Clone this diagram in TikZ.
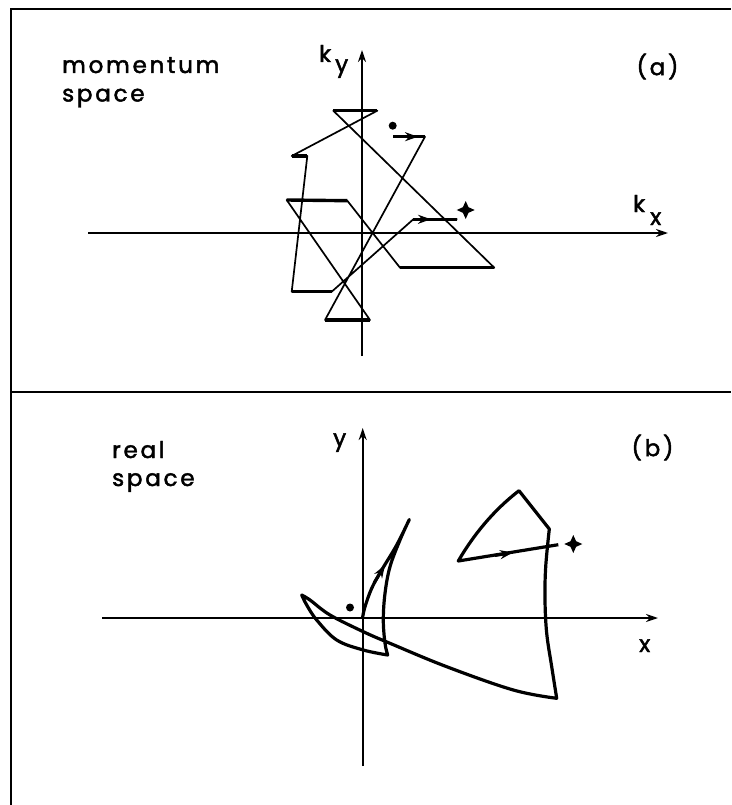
\documentclass[tikz,border=0pt]{standalone}
\usepackage{fontspec}
\setmainfont{Poppins}[LetterSpace=12,FakeBold=2]
\usetikzlibrary{arrows.meta}
\tikzset{
  frame/.style={line width=2.5pt},
  axis/.style={line width=2.1pt,-{Stealth[length=12pt,width=8pt]}},
  thin traj/.style={line width=1.7pt,line join=round},
  hseg/.style={line width=3.4pt},
  curve/.style={line width=3.2pt,line join=round},
  midarrow/.style={-{Stealth[length=13pt,width=9pt]},line width=3pt},
  lbl/.style={inner sep=0pt,font=\fontsize{23}{28}\selectfont},
  dot/.style={circle,fill=black,inner sep=0pt,minimum size=8pt},
}
\newcommand{\starmark}[1]{\fill[black] (#1) ++(0,-9) -- ++(2.8,6.2) -- ++(6.2,2.8) -- ++(-6.2,2.8) -- ++(-2.8,6.2) -- ++(-2.8,-6.2) -- ++(-6.2,-2.8) -- ++(6.2,-2.8) -- cycle;}
\begin{document}
\begin{tikzpicture}[x=1pt,y=-1pt]
\useasboundingbox (0,0) rectangle (731,805);
% frame
\draw[frame] (11,805) -- (11,9) -- (731,9);
\draw[frame] (11,392) -- (731,392);

% ---------- panel (a)
\coordinate (kxl) at (88,233);
\coordinate (kxr) at (668,233);
\coordinate (kyb) at (362,356);
\coordinate (kyt) at (362,50);
\draw[axis] (kxl) -- (kxr);
\draw[axis] (kyb) -- (kyt);
\node[lbl,anchor=base west] (mom) at (62,73) {momentum};
\node[lbl,anchor=base west] (msp) at (62,101.5) {space};
\node[lbl] (la) at (657.5,66.5) {(a)};
\node[lbl,anchor=base west] (k1) at (319,62) {k};
\node[lbl,anchor=base west] (k1s) at (335,72) {y};
\node[lbl,anchor=base west] (k2) at (633,212) {k};
\node[lbl,anchor=base west] (k2s) at (650,225) {x};

\coordinate (P1) at (393.3,136.7);
\coordinate (P2) at (425,136.7);
\coordinate (P3) at (325,320);
\coordinate (P4) at (370,320);
\coordinate (P5) at (286.7,200);
\coordinate (P6) at (347.3,200.7);
\coordinate (P7) at (400,267.7);
\coordinate (P8) at (494.3,267.7);
\coordinate (P9) at (333.3,110.7);
\coordinate (P10) at (377.3,110.7);
\coordinate (P11) at (291.7,156);
\coordinate (P12) at (307.3,156);
\coordinate (P13) at (291.7,291.7);
\coordinate (P14) at (331.7,291.7);
\coordinate (P15) at (413.3,219.3);
\coordinate (P16) at (457.3,219.3);
\draw[thin traj] (P1) -- (P2) -- (P3) -- (P4) -- (P5) -- (P6) -- (P7) -- (P8) -- (P9) -- (P10) -- (P11) -- (P12) -- (P13) -- (P14) -- (P15) -- (P16);
\draw[hseg] (P1) -- (P2);
\draw[hseg] (P3) -- (P4);
\draw[hseg] (P5) -- (P6);
\draw[hseg] (P7) -- (P8);
\draw[hseg] (P9) -- (P10);
\draw[hseg] (P11) -- (P12);
\draw[hseg] (P13) -- (P14);
\draw[hseg] (P15) -- (P16);
\coordinate (A1s) at (400,136.7);
\coordinate (A1e) at (418,136.7);
\draw[midarrow] (A1s) -- (A1e);
\coordinate (A2s) at (414,219.3);
\coordinate (A2e) at (431,219.3);
\draw[midarrow] (A2s) -- (A2e);
\node[dot] (d1) at (392.7,125.7) {};
\coordinate (s1) at (465.7,210);
\starmark{s1}

% ---------- panel (b)
\coordinate (xl) at (102,618);
\coordinate (xr) at (658,618);
\coordinate (yb) at (362.7,766);
\coordinate (yt) at (362.7,428);
\draw[axis] (xl) -- (xr);
\draw[axis] (yb) -- (yt);
\node[lbl,anchor=base west] (rl) at (112,458) {real};
\node[lbl,anchor=base west] (rsp) at (112,486) {space};
\node[lbl] (lb) at (652.5,447.5) {(b)};
\node[lbl,anchor=base west] (ly) at (333,446) {y};
\node[lbl,anchor=base west] (lx) at (639,652) {x};

\draw[curve] plot[smooth,tension=0.6] coordinates {(362.7,617) (365,606.7) (371.7,588.3) (381.7,570) (396.7,545) (409.3,519.5)}
  -- plot[smooth,tension=0.6] coordinates {(409.3,519.5) (400,540) (390,566.7) (385,593.3) (383.3,620) (385,643.3) (387.7,655)}
  -- plot[smooth,tension=0.6] coordinates {(387.7,655) (363.3,650) (336.7,640) (316.7,620) (306.7,605) (301.7,595)}
  -- plot[smooth,tension=0.6] coordinates {(301.7,595) (310,600) (330,615) (363.3,631.7) (390,643.3) (446.7,666.7) (513.3,690) (556.7,698.3)}
  -- plot[smooth,tension=0.6] coordinates {(556.7,698.3) (551.7,666.7) (546.7,633.3) (545,600) (545.7,566.7) (549.3,529)}
  -- (519,490.7)
  .. controls (494,510) and (474,534) .. (458.3,561)
  -- (558.3,544.7);
\coordinate (B1s) at (374,583);
\coordinate (B1e) at (385,565);
\draw[midarrow] (B1s) -- (B1e);
\coordinate (B2s) at (495,555.5);
\coordinate (B2e) at (513,552.5);
\draw[midarrow] (B2s) -- (B2e);
\node[dot] (d2) at (350,607.5) {};
\coordinate (s2) at (573.3,544);
\starmark{s2}
\end{tikzpicture}
\end{document}
